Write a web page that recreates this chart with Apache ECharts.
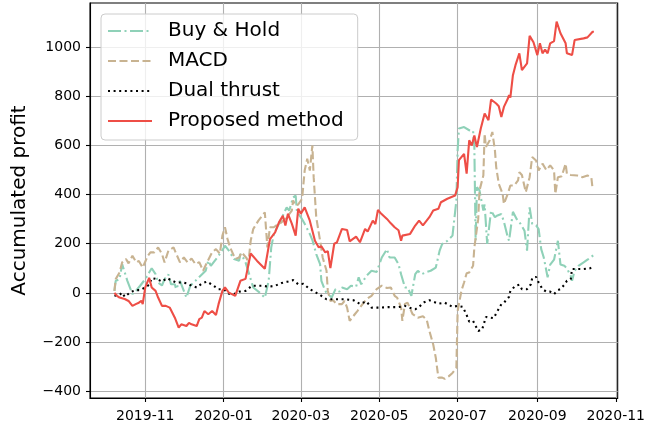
<!DOCTYPE html>
<html><head><meta charset="utf-8">
<script src="https://cdn.jsdelivr.net/npm/echarts@6/dist/echarts.min.js"></script>
<style>html,body{margin:0;padding:0;background:#fff}#c{width:648px;height:430px}</style>
</head><body><div id="c"></div>
<script>
const seriesNames = ['Buy & Hold', 'MACD', 'Dual thrust', 'Proposed method'];
const xTickDates = ['2019-11-01','2020-01-01','2020-03-01','2020-05-01','2020-07-01','2020-09-01','2020-11-01'];
const yTicks = [-400, -200, 0, 200, 400, 600, 800, 1000];
const xRange = ['2019-09-19', '2020-11-02'];
const yRange = [-428, 1180];

const buyHold = [
['2019-10-08',8],['2019-10-09',49],['2019-10-12',56],['2019-10-14',117],['2019-10-18',50],['2019-10-22',-5],
['2019-10-25',10],['2019-10-28',29],['2019-11-01',56],['2019-11-04',83],['2019-11-06',100],['2019-11-09',76],
['2019-11-11',42],['2019-11-14',30],['2019-11-16',56],['2019-11-19',75],['2019-11-21',35],['2019-11-24',35],
['2019-11-25',15],['2019-11-28',49],['2019-12-01',8],['2019-12-03',-19],['2019-12-06',29],['2019-12-10',49],
['2019-12-14',70],['2019-12-18',90],['2019-12-20',131],['2019-12-22',110],['2019-12-27',144],['2019-12-30',165],
['2020-01-02',192],['2020-01-05',172],['2020-01-09',138],['2020-01-13',131],['2020-01-14',158],['2020-01-16',144],
['2020-01-18',124],['2020-01-22',56],['2020-01-24',22],['2020-01-29',1],['2020-02-02',-20],['2020-02-05',49],
['2020-02-07',185],['2020-02-09',240],['2020-02-13',281],['2020-02-16',314],['2020-02-19',348],['2020-02-21',335],
['2020-02-24',389],['2020-02-26',396],['2020-02-27',330],['2020-03-02',300],['2020-03-04',281],['2020-03-08',240],
['2020-03-10',215],['2020-03-13',158],['2020-03-16',117],['2020-03-17',49],['2020-03-20',8],['2020-03-22',-5],
['2020-03-25',-19],['2020-03-28',15],['2020-03-31',5],['2020-04-02',22],['2020-04-06',15],['2020-04-09',29],
['2020-04-13',25],['2020-04-15',63],['2020-04-17',35],['2020-04-21',69],['2020-04-25',90],['2020-04-29',85],
['2020-05-03',144],['2020-05-07',178],['2020-05-09',144],['2020-05-13',144],['2020-05-16',117],['2020-05-18',76],
['2020-05-21',22],['2020-05-23',22],['2020-05-26',-12],['2020-05-29',76],['2020-05-31',90],['2020-06-03',76],
['2020-06-07',85],['2020-06-10',90],['2020-06-14',103],['2020-06-17',172],['2020-06-19',199],['2020-06-23',212],
['2020-06-27',233],['2020-06-30',376],['2020-07-01',580],['2020-07-02',669],['2020-07-06',675],['2020-07-10',662],
['2020-07-13',660],['2020-07-14',594],['2020-07-15',212],['2020-07-16',430],['2020-07-18',417],['2020-07-21',335],
['2020-07-22',360],['2020-07-24',199],['2020-07-27',335],['2020-07-30',308],['2020-08-01',315],['2020-08-04',321],
['2020-08-06',290],['2020-08-09',226],['2020-08-10',212],['2020-08-13',330],['2020-08-16',300],['2020-08-19',281],
['2020-08-22',253],['2020-08-24',172],['2020-08-26',348],['2020-08-28',281],['2020-08-31',275],['2020-09-02',260],
['2020-09-04',178],['2020-09-06',144],['2020-09-09',63],['2020-09-11',115],['2020-09-14',135],['2020-09-17',212],
['2020-09-19',115],['2020-09-22',110],['2020-09-24',100],['2020-09-27',69],['2020-09-28',49],['2020-09-30',90],
['2020-10-03',110],['2020-10-07',124],['2020-10-10',135],['2020-10-12',142],['2020-10-15',155]
];

const macd = [
['2019-10-08',8],['2019-10-09',56],['2019-10-12',83],['2019-10-14',124],['2019-10-17',138],['2019-10-19',120],
['2019-10-22',151],['2019-10-25',124],['2019-10-27',130],['2019-10-30',103],['2019-11-03',151],['2019-11-05',165],
['2019-11-08',165],['2019-11-11',185],['2019-11-14',158],['2019-11-16',124],['2019-11-19',172],['2019-11-23',185],
['2019-11-25',160],['2019-11-28',124],['2019-12-01',144],['2019-12-04',124],['2019-12-07',140],['2019-12-10',117],
['2019-12-13',125],['2019-12-16',90],['2019-12-19',124],['2019-12-23',165],['2019-12-26',178],['2019-12-29',160],
['2019-12-31',233],['2020-01-02',267],['2020-01-04',219],['2020-01-06',185],['2020-01-10',138],['2020-01-13',144],
['2020-01-15',165],['2020-01-16',172],['2020-01-19',140],['2020-01-20',110],['2020-01-22',212],['2020-01-24',260],
['2020-01-28',294],['2020-02-02',328],['2020-02-04',185],['2020-02-06',267],['2020-02-09',267],['2020-02-11',275],
['2020-02-15',287],['2020-02-20',314],['2020-02-23',335],['2020-02-24',376],['2020-02-26',355],['2020-02-28',360],
['2020-03-02',383],['2020-03-04',498],['2020-03-06',546],['2020-03-08',498],['2020-03-10',600],['2020-03-11',471],
['2020-03-13',308],['2020-03-16',212],['2020-03-18',144],['2020-03-21',90],['2020-03-22',8],['2020-03-24',-33],
['2020-03-26',-30],['2020-03-29',-46],['2020-04-02',-46],['2020-04-04',-33],['2020-04-06',-60],['2020-04-08',-114],
['2020-04-12',-87],['2020-04-14',-74],['2020-04-17',-53],['2020-04-21',-26],['2020-04-25',-12],['2020-04-29',15],
['2020-05-03',29],['2020-05-07',20],['2020-05-10',22],['2020-05-13',-12],['2020-05-15',-20],['2020-05-18',-60],
['2020-05-19',-114],['2020-05-21',-45],['2020-05-23',-40],['2020-05-27',-87],['2020-05-31',-101],['2020-06-04',-95],
['2020-06-07',-110],['2020-06-09',-155],['2020-06-12',-210],['2020-06-14',-264],['2020-06-16',-345],['2020-06-19',-345],
['2020-06-21',-350],['2020-06-24',-340],['2020-06-27',-326],['2020-06-30',-305],['2020-07-01',-74],['2020-07-04',10],
['2020-07-06',42],['2020-07-08',80],['2020-07-10',83],['2020-07-13',110],['2020-07-14',185],['2020-07-17',300],
['2020-07-18',417],['2020-07-21',478],['2020-07-22',648],['2020-07-23',594],['2020-07-26',621],['2020-07-28',655],
['2020-07-30',580],['2020-07-31',512],['2020-08-02',444],['2020-08-05',403],['2020-08-06',362],['2020-08-09',403],
['2020-08-11',437],['2020-08-14',437],['2020-08-17',458],['2020-08-18',491],['2020-08-20',480],['2020-08-23',410],
['2020-08-26',471],['2020-08-28',553],['2020-08-31',539],['2020-09-02',498],['2020-09-05',526],['2020-09-08',500],
['2020-09-11',519],['2020-09-14',498],['2020-09-15',403],['2020-09-17',471],['2020-09-20',475],['2020-09-23',526],
['2020-09-24',485],['2020-09-27',480],['2020-10-02',478],['2020-10-06',471],['2020-10-10',478],['2020-10-13',470],
['2020-10-14',424]
];

const dualThrust = [
['2019-10-08',-12],['2019-10-12',-8],['2019-10-14',1],['2019-10-16',-16],['2019-10-21',5],['2019-10-25',11],
['2019-10-28',11],['2019-11-01',22],['2019-11-04',33],['2019-11-06',60],['2019-11-10',56],['2019-11-14',46],
['2019-11-18',60],['2019-11-21',52],['2019-11-25',42],['2019-11-30',42],['2019-12-04',38],['2019-12-07',29],
['2019-12-11',22],['2019-12-15',38],['2019-12-19',46],['2019-12-23',33],['2019-12-28',15],['2020-01-01',15],
['2020-01-05',-3],['2020-01-09',-5],['2020-01-13',5],['2020-01-18',8],['2020-01-23',29],['2020-01-31',29],
['2020-02-05',25],['2020-02-10',29],['2020-02-15',40],['2020-02-20',46],['2020-02-24',52],['2020-02-28',35],
['2020-03-03',37],['2020-03-08',15],['2020-03-15',-5],['2020-03-21',-26],['2020-03-29',-26],['2020-04-05',-26],
['2020-04-11',-30],['2020-04-16',-45],['2020-04-21',-35],['2020-04-25',-60],['2020-05-01',-60],['2020-05-08',-58],
['2020-05-16',-58],['2020-05-21',-53],['2020-05-26',-63],['2020-05-29',-67],['2020-06-01',-57],['2020-06-05',-38],
['2020-06-09',-30],['2020-06-16',-44],['2020-06-21',-40],['2020-06-27',-57],['2020-07-01',-53],['2020-07-05',-57],
['2020-07-08',-90],['2020-07-10',-117],['2020-07-13',-114],['2020-07-17',-155],['2020-07-20',-150],['2020-07-23',-98],
['2020-07-29',-103],['2020-08-01',-74],['2020-08-04',-46],['2020-08-06',-40],['2020-08-10',-16],['2020-08-11',8],
['2020-08-15',29],['2020-08-18',33],['2020-08-20',15],['2020-08-24',15],['2020-08-27',35],['2020-08-28',60],
['2020-08-31',65],['2020-09-02',42],['2020-09-05',15],['2020-09-08',5],['2020-09-11',5],['2020-09-14',-5],
['2020-09-17',11],['2020-09-19',15],['2020-09-22',33],['2020-09-24',49],['2020-09-27',56],['2020-09-28',97],
['2020-10-02',97],['2020-10-07',97],['2020-10-12',100],['2020-10-14',108]
];

const proposed = [
['2019-10-08',0],['2019-10-10',-12],['2019-10-12',-19],['2019-10-13',-14],['2019-10-16',-25],['2019-10-19',-33],
['2019-10-22',-53],['2019-10-25',-45],['2019-10-27',-40],['2019-10-29',-32],['2019-10-30',-46],['2019-11-01',22],
['2019-11-02',29],['2019-11-04',61],['2019-11-06',22],['2019-11-09',8],['2019-11-11',-19],['2019-11-14',-53],
['2019-11-17',-53],['2019-11-20',-60],['2019-11-24',-101],['2019-11-27',-142],['2019-11-29',-128],['2019-12-03',-135],
['2019-12-05',-122],['2019-12-07',-128],['2019-12-11',-135],['2019-12-13',-107],['2019-12-15',-101],['2019-12-17',-74],
['2019-12-20',-87],['2019-12-23',-74],['2019-12-26',-90],['2019-12-28',-46],['2019-12-31',8],['2020-01-02',22],
['2020-01-05',1],['2020-01-10',-12],['2020-01-14',49],['2020-01-18',57],['2020-01-22',160],['2020-01-27',130],
['2020-02-02',98],['2020-02-06',219],['2020-02-10',246],['2020-02-13',287],['2020-02-16',314],['2020-02-18',274],
['2020-02-20',322],['2020-02-23',282],['2020-02-26',233],['2020-02-28',343],['2020-03-01',322],['2020-03-04',348],
['2020-03-08',294],['2020-03-12',212],['2020-03-15',185],['2020-03-17',190],['2020-03-20',165],['2020-03-22',170],
['2020-03-24',101],['2020-03-27',200],['2020-03-29',205],['2020-04-02',260],['2020-04-06',256],['2020-04-08',210],
['2020-04-09',206],['2020-04-13',229],['2020-04-16',206],['2020-04-20',260],['2020-04-22',250],['2020-04-26',294],
['2020-04-28',280],['2020-04-30',338],['2020-05-02',325],['2020-05-07',301],['2020-05-10',283],['2020-05-13',267],
['2020-05-16',255],['2020-05-18',212],['2020-05-19',233],['2020-05-25',240],['2020-05-29',274],['2020-06-01',294],
['2020-06-04',275],['2020-06-09',308],['2020-06-12',335],['2020-06-16',342],['2020-06-18',369],['2020-06-23',383],
['2020-06-29',396],['2020-07-01',430],['2020-07-02',540],['2020-07-06',566],['2020-07-08',485],['2020-07-10',621],
['2020-07-12',600],['2020-07-14',641],['2020-07-16',594],['2020-07-19',669],['2020-07-22',730],['2020-07-25',703],
['2020-07-27',787],['2020-07-31',771],['2020-08-02',760],['2020-08-04',716],['2020-08-06',757],['2020-08-09',790],
['2020-08-10',805],['2020-08-11',795],['2020-08-13',886],['2020-08-15',927],['2020-08-18',975],['2020-08-20',907],
['2020-08-24',934],['2020-08-26',1046],['2020-08-29',1020],['2020-09-01',968],['2020-09-03',1016],['2020-09-05',975],
['2020-09-07',990],['2020-09-09',975],['2020-09-11',1016],['2020-09-14',1025],['2020-09-16',1104],['2020-09-19',1057],
['2020-09-23',1016],['2020-09-24',975],['2020-09-28',968],['2020-09-29',961],['2020-09-30',1029],['2020-10-07',1036],
['2020-10-10',1040],['2020-10-14',1063],['2020-10-15',1063]
];

function parseLocal(s) {
  const p = s.split('-').map(Number);
  return new Date(p[0], p[1] - 1, p[2]).getTime();
}
function toPoints(arr) { return arr.map(d => [parseLocal(d[0]), d[1]]); }

const FONT = 'DejaVu Sans';
const colors = ['#8fd1b8', '#c8b391', '#000000', '#ee4e46'];
const dashes = [[13, 3.5, 2, 3.5], [8, 3.5], [2, 3.6], 'solid'];
const datasets = [buyHold, macd, dualThrust, proposed];
const xTickValues = xTickDates.map(parseLocal);

const chart = echarts.init(document.getElementById('c'), null, { renderer: 'canvas' });
chart.setOption({
  animation: false,
  backgroundColor: '#fff',
  grid: { left: 90, right: 28, top: 3, bottom: 32, show: true, borderColor: '#000', borderWidth: 1.1, backgroundColor: 'transparent' },
  legend: {
    orient: 'vertical', left: 101, top: 14,
    padding: [7, 14, 9, 6], itemGap: 10, itemWidth: 44, itemHeight: 14,
    backgroundColor: 'rgba(255,255,255,0.8)', borderColor: '#cccccc', borderWidth: 1, borderRadius: 4,
    itemStyle: { opacity: 0 },
    textStyle: { fontFamily: FONT, fontSize: 20, lineHeight: 20, color: '#000', padding: [0, 0, 0, 11] },
    data: seriesNames, z: 10
  },
  xAxis: {
    type: 'value',
    min: parseLocal(xRange[0]), max: parseLocal(xRange[1]) + 12 * 3600 * 1000,
    axisLine: { show: true, onZero: false, lineStyle: { color: '#000', width: 1.1 } },
    axisTick: { show: true, length: 4, lineStyle: { color: '#000', width: 1.1 }, customValues: xTickValues },
    axisLabel: {
      customValues: xTickValues, margin: 11,
      fontFamily: FONT, fontSize: 14, color: '#000',
      formatter: v => { const d = new Date(v); return d.getFullYear() + '-' + String(d.getMonth() + 1).padStart(2, '0'); }
    },
    splitLine: { show: true, lineStyle: { color: '#b0b0b0', width: 1.1 } }
  },
  yAxis: {
    type: 'value', min: yRange[0], max: yRange[1],
    name: 'Accumulated profit', nameLocation: 'middle', nameGap: 60, nameRotate: 90,
    nameTextStyle: { fontFamily: FONT, fontSize: 20, color: '#000' },
    axisLine: { show: true, lineStyle: { color: '#000', width: 1.1 } },
    axisTick: { show: true, length: 4, lineStyle: { color: '#000', width: 1.1 }, customValues: yTicks },
    axisLabel: {
      customValues: yTicks, margin: 9, fontFamily: FONT, fontSize: 14, color: '#000',
      formatter: v => String(v).replace('-', '\u2212')
    },
    splitLine: { show: true, lineStyle: { color: '#b0b0b0', width: 1.1 } }
  },
  series: datasets.map((arr, i) => ({
    name: seriesNames[i], type: 'line', data: toPoints(arr),
    showSymbol: false, symbol: 'none', clip: true,
    itemStyle: { color: colors[i] },
    lineStyle: { color: colors[i], width: 2.1, type: dashes[i], cap: 'butt' },
    z: 2 + i
  }))
});
</script></body></html>
